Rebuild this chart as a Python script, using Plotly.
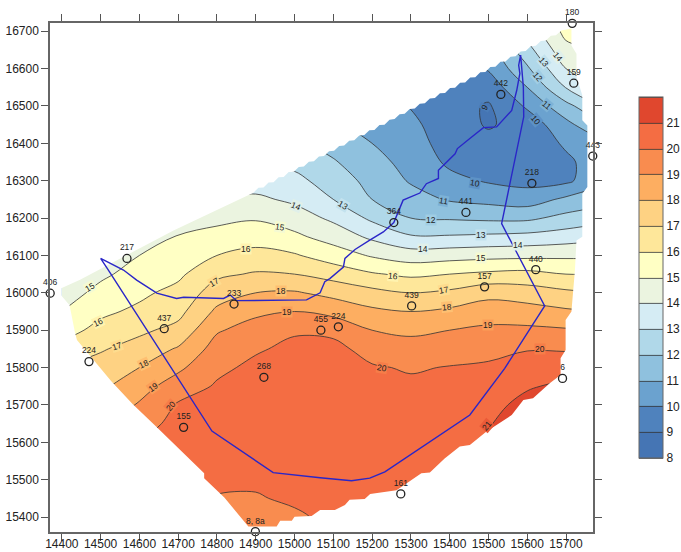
import plotly.graph_objects as go

x_grid = [14400, 14500, 14600, 14700, 14800, 14900, 15000, 15100, 15200, 15300, 15400, 15500, 15600, 15700, 15800]
y_grid = [15350, 15400, 15450, 15500, 15550, 15600, 15650, 15700, 15750, 15800, 15850, 15900, 15950, 16000, 16050,
          16100, 16150, 16200, 16250, 16300, 16350, 16400, 16450, 16500, 16550, 16600, 16650, 16700, 16750]

z_14400 = [20.5,20.3,19.9,19.5,19.1,18.7,18.3,17.9,17.5,17.0,16.3,15.6,15.0,14.5,14.0,13.5,13.0,12.5,12.0,11.5,11.0,10.5,10.0,10.0,10.0,10.0,10.0,10.0,10.0]
z_14500 = [20.7,20.6,20.5,20.3,19.8,19.4,18.9,18.3,17.8,17.4,16.9,16.3,15.8,15.3,14.8,14.1,13.6,13.0,12.5,12.0,11.5,11.0,10.5,10.3,10.0,10.0,10.0,10.0,10.0]
z_14600 = [20.8,20.8,20.6,20.4,20.2,20.0,19.6,19.1,18.6,18.0,17.4,16.8,16.2,15.8,15.4,15.0,14.2,13.5,13.0,12.5,12.0,11.5,11.0,10.5,10.2,10.0,10.0,10.0,10.0]
z_14700 = [20.8,20.8,20.7,20.6,20.5,20.4,20.3,20.1,19.5,18.8,18.1,17.3,16.7,16.3,15.8,15.5,15.1,14.0,13.5,13.0,12.5,12.0,11.5,11.0,10.5,10.2,10.0,10.0,10.0]
z_14800 = [19.5,19.7,19.95,20.2,20.3,20.4,20.4,20.3,20.1,19.8,19.4,18.9,18.2,17.5,16.8,16.0,15.4,14.7,14.0,13.4,12.8,12.2,11.6,11.0,10.5,10.2,10.0,10.0,10.0]
z_14900 = [19.3,19.6,19.9,20.2,20.4,20.5,20.5,20.5,20.4,20.2,19.9,19.4,18.8,18.0,17.1,16.3,15.6,14.9,14.2,13.5,12.9,12.3,11.7,11.1,10.6,10.2,10.0,10.0,10.0]
z_15000 = [19.5,19.8,20.2,20.4,20.5,20.6,20.6,20.6,20.5,20.4,20.2,19.9,19.0,18.1,17.0,16.1,15.2,14.5,13.8,13.3,12.7,12.2,11.6,11.0,10.6,10.2,10.0,10.0,10.0]
z_15100 = [20.15,20.3,20.4,20.5,20.6,20.6,20.6,20.6,20.5,20.4,20.3,19.75,18.7,17.7,16.6,15.5,14.6,13.8,13.0,12.5,12.1,11.6,11.1,10.6,10.3,10.0,10.0,10.0,10.0]
z_15200 = [20.3,20.4,20.5,20.6,20.6,20.7,20.7,20.6,20.4,20.1,19.6,19.0,18.2,17.3,16.1,14.9,13.8,12.8,12.0,11.7,11.3,11.0,10.7,10.4,10.1,10.0,10.0,10.0,10.0]
z_15300 = [20.4,20.5,20.5,20.6,20.6,20.6,20.5,20.4,20.2,19.9,19.4,18.8,18.0,17.0,15.8,14.5,13.1,12.0,11.4,10.9,10.7,10.4,10.2,9.95,9.8,9.7,9.6,9.6,9.6]
z_15400 = [20.3,20.4,20.4,20.5,20.5,20.5,20.5,20.4,20.3,20.05,19.5,19.0,18.2,17.2,16.0,14.6,13.1,11.9,10.9,10.3,9.8,9.6,9.5,9.4,9.3,9.3,9.3,9.3,9.3]
z_15500 = [20.1,20.2,20.3,20.4,20.5,21.1,20.95,20.7,20.5,20.15,19.7,19.2,18.5,17.7,16.2,14.7,13.2,11.8,10.7,9.9,9.6,9.3,8.9,8.9,9.4,10.1,10.5,10.8,11.0]
z_15600 = [20.6,20.8,21.0,21.2,21.4,21.5,21.4,21.3,20.9,20.4,19.95,19.2,18.4,17.5,16.3,14.75,13.3,11.8,10.5,9.7,9.4,9.3,9.4,10.15,11.0,11.85,12.65,13.4,14.2]
z_15700 = [21.5,21.6,21.7,21.7,21.7,21.7,21.6,21.5,21.2,20.6,19.9,19.1,18.15,17.2,16.0,14.8,13.5,12.3,11.2,9.8,9.8,10.15,10.7,11.7,13.05,14.0,14.7,15.3,15.8]
z_15800 = [21.8,21.8,21.8,21.8,21.8,21.8,21.8,21.8,21.6,20.8,19.8,19.0,18.0,17.0,16.0,14.8,13.8,12.7,11.6,10.8,10.6,10.9,12.05,13.1,14.1,14.6,15.1,16.0,16.4]

z_columns = [z_14400, z_14500, z_14600, z_14700, z_14800, z_14900, z_15000, z_15100,
             z_15200, z_15300, z_15400, z_15500, z_15600, z_15700, z_15800]
z_rows = [list(r) for r in zip(*z_columns)]

levels = list(range(8, 22))
band_colors = ["#4575b4", "#4f82bd", "#6ba2cf", "#8fc1de", "#b0d8e9", "#d5ecf4", "#ebf4e0",
               "#ffffc4", "#fee79a", "#fed283", "#fdae61", "#f98c4f", "#f46d43", "#e0472e"]
label_bg = ["#4a7cb8", "#5d92c6", "#7db2d6", "#a0cde4", "#c3e2ee", "#e0f0ea", "#f5fad2",
            "#fff3af", "#fedc8e", "#fec072", "#fb9d58", "#f67d49", "#ea5a38"]

# outline of the mapped area, clockwise from the west corner
edge_x = [14387,14447,14688,14894,14907,14920,14933,14946,14959,14972,14985,14998,15011,15024,15037,15050,15063,15076,15089,15102,15115,15128,15141,15154,15167,15180,15193,15206,15219,15232,15245,15258,15271,15284,15297,15310,15323,15336,15349,15362,15375,15388,15401,15414,15427,15440,15453,15466,15479,15492,15505,15518,15531,15544,15557,15570,15583,15596,15609,15622,15635,15648,15661,15674,15688,
          15714,15714,15727,15727,15742,15742,15755,15755,15742,15742,15727,15723,15714,15699,15699,15686,15686,15658,15615,15590,15560,15495,15452,15426,15387,15349,15327,15263,15195,15181,15142,15130,15104,15066,15044,15000,14993,14963,14954,14881,14819,14767,14767,14641,14583,14527,14439,14434,14420]
edge_y = [16007,16035,16167,16268,16281,16282,16295,16296,16309,16310,16323,16324,16337,16338,16351,16352,16365,16366,16379,16380,16393,16394,16407,16408,16421,16422,16435,16436,16449,16450,16463,16465,16478,16479,16492,16493,16506,16507,16520,16521,16534,16535,16548,16549,16562,16563,16576,16577,16590,16591,16604,16605,16618,16619,16632,16633,16646,16647,16660,16661,16674,16675,16688,16689,16702,
          16707,16662,16640,16578,16529,16462,16448,16283,16265,16150,16140,16061,15950,15927,15847,15825,15780,15758,15718,15713,15673,15629,15593,15589,15557,15519,15517,15472,15462,15448,15446,15432,15419,15419,15403,15401,15390,15390,15375,15375,15452,15504,15517,15644,15702,15764,15874,15893,15967]

# outer line (closed)
blue_x = [14500,14559,14593,14645,14696,14714,14817,14834,14851,15031,15066,15078,15091,15126,15130,15156,15194,15229,15256,15280,15323,15340,15371,15371,15414,15420,15452,15487,15521,15560,15573,15581,15578,15583,15590,15591,15534,15607,15645,15542,15452,15233,15194,15147,15066,14945,14787,14520,14500]
blue_y = [16092,16061,16034,15999,15985,15988,15985,15994,15979,15981,16000,16030,16038,16069,16092,16116,16141,16163,16188,16248,16267,16292,16306,16328,16372,16386,16413,16442,16444,16488,16542,16587,16609,16636,16551,16471,16185,16038,15965,15798,15673,15521,15504,15497,15505,15519,15630,16061,16092]

well_names = ["406","217","224","437","233","268","155","8, 8a","455","224","439","157","6","161","440","364","441","218","442","159","180","443"]
well_x = [14370,14568,14470,14664,14844,14921,14714,14899,15068,15113,15302,15490,15691,15274,15622,15256,15442,15612,15532,15720,15716,15769]
well_y = [15999,16092,15816,15904,15970,15774,15640,15361,15900,15909,15965,16016,15771,15462,16062,16188,16215,16293,16531,16561,16721,16366]

label_text = [15,16,17,18,19,20,15,16,14,17,18,19,13,12,11,10,14,13,15,14,16,17,18,19,20,20,21,9,10,11,12,13,14]
label_x = [14473,14494,14543,14611,14636,14681,14962,14875,15004,14793,14964,14981,15124,15351,15385,15465,15332,15482,15482,15577,15254,15385,15394,15499,15226,15634,15495,15491,15622,15650,15628,15643,15680]
label_y = [16016,15923,15858,15809,15749,15697,16175,16118,16232,16030,16005,15950,16234,16196,16245,16295,16116,16156,16092,16127,16044,16007,15961,15914,15800,15849,15644,16497,16463,16502,16578,16618,16631]
label_angle = [-30,-25,-18,-25,-35,-50,8,0,22,-30,0,0,30,0,10,10,0,0,0,0,5,-10,-5,0,10,0,-50,-60,50,40,50,50,50]

X0, X1 = 14369.5, 15769.6
Y0, Y1 = 15360, 16722

stops = []
n = len(band_colors)
for i, c in enumerate(band_colors):
    stops += [[i / n, c], [(i + 1) / n, c]]

fig = go.Figure()
fig.add_trace(go.Contour(
    x=x_grid, y=y_grid, z=z_rows, zmin=8, zmax=22, colorscale=stops, autocontour=False,
    contours=dict(start=8, end=22, size=1, coloring="fill", showlines=True),
    line=dict(color="#333333", width=0.8, smoothing=1.0),
    hoverinfo="skip",
    colorbar=dict(thickness=24, thicknessmode="pixels", len=361, lenmode="pixels",
                  x=1.0847, xanchor="left", xpad=0, y=0.1454, yanchor="bottom", ypad=0,
                  tickmode="array", tickvals=levels, ticktext=[str(v) for v in levels],
                  ticks="", tickfont=dict(family="Liberation Sans", size=12, color="#222222"),
                  outlinecolor="#666666", outlinewidth=1),
))

# white surround that clips the map to its outline (rectangle anticlockwise, outline clockwise)
mask_x = [X0, X1, X1, X0] + edge_x + [edge_x[0], X0]
mask_y = [Y0, Y0, Y1, Y1] + edge_y + [edge_y[0], Y1]
fig.add_trace(go.Scatter(x=mask_x, y=mask_y, mode="lines", line=dict(width=0), fill="toself",
                         fillcolor="white", hoverinfo="skip", showlegend=False))

fig.add_trace(go.Scatter(x=blue_x, y=blue_y, mode="lines", line=dict(color="#2a26c8", width=1.4),
                         hoverinfo="skip", showlegend=False))

fig.add_trace(go.Scatter(x=well_x, y=well_y, mode="markers+text", text=well_names, textposition="top center",
                         textfont=dict(family="Liberation Sans", size=8.5, color="#222222"),
                         marker=dict(symbol="circle-open", size=8, color="#222222", line=dict(width=1.3, color="#222222")),
                         cliponaxis=False, hoverinfo="skip", showlegend=False))

annotations = []
for t, ax, ay, ang in zip(label_text, label_x, label_y, label_angle):
    annotations.append(dict(x=ax, y=ay, text=str(t), showarrow=False, textangle=ang,
                            font=dict(family="Liberation Sans", size=8.5, color="#222222"),
                            bgcolor=label_bg[t - 9], borderpad=0))

axis_common = dict(showgrid=False, zeroline=False, showline=True, linecolor="#666666", linewidth=1.5,
                   mirror="ticks", ticks="outside", ticklen=7, tickwidth=1, tickcolor="#555555",
                   tickfont=dict(family="Liberation Sans", size=12, color="#222222"), automargin=False)
fig.update_layout(
    width=681, height=552, margin=dict(l=50, r=88, t=23, b=20, autoexpand=False), plot_bgcolor="white", paper_bgcolor="white",
    xaxis=dict(range=[X0, X1], tickmode="array", tickvals=list(range(14400, 15701, 100)), tickformat="d", ticklabelstandoff=-7, **axis_common),
    yaxis=dict(range=[Y0, Y1], tickmode="array", tickvals=list(range(15400, 16701, 100)), tickformat="d", **axis_common),
    annotations=annotations, showlegend=False,
)
fig.write_html("out.html", config={"displayModeBar": False},
               post_script="document.body.style.margin='0';document.documentElement.style.overflow='hidden';")
